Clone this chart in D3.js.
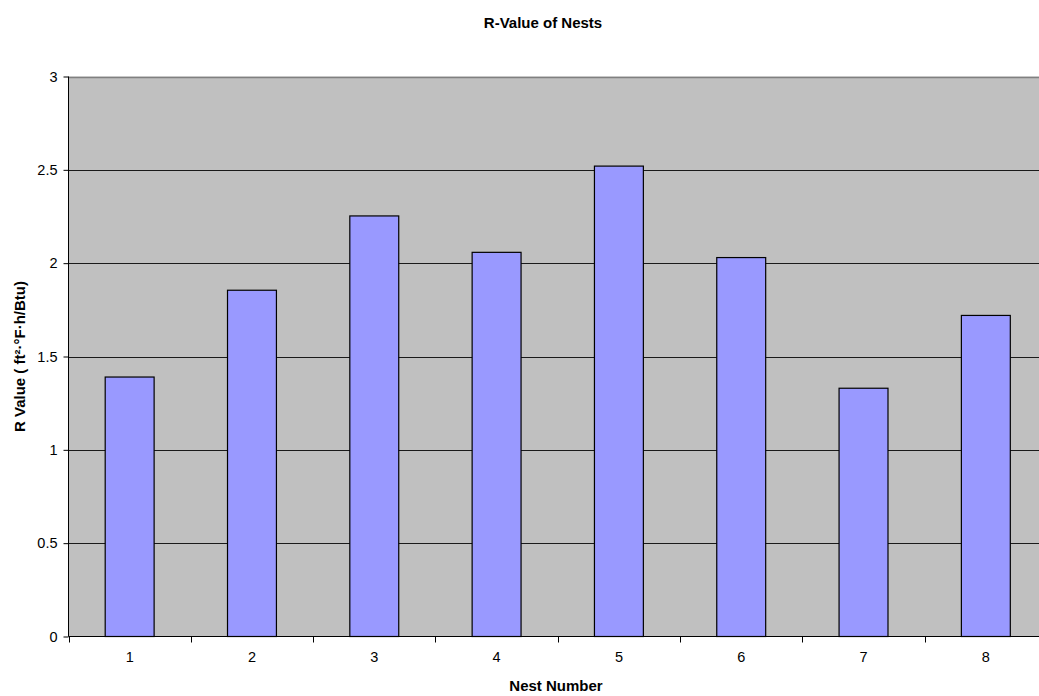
<!DOCTYPE html>
<html>
<head>
<meta charset="utf-8">
<script src="https://cdn.jsdelivr.net/npm/d3@7"></script>
<style>
  html, body { margin: 0; padding: 0; background: #fff; overflow: hidden; }
  text { font-family: "Liberation Sans", Arial, sans-serif; fill: #000; }
</style>
</head>
<body>
<svg id="chart" width="1039" height="696"></svg>
<script>
const categories = ["1", "2", "3", "4", "5", "6", "7", "8"];
const values = [1.39, 1.855, 2.253, 2.058, 2.52, 2.03, 1.33, 1.72];
const yTicks = [0, 0.5, 1, 1.5, 2, 2.5, 3];
const yTickLabels = ["0", "0.5", "1", "1.5", "2", "2.5", "3"];
const chartTitle = "R-Value of Nests";
const xTitle = "Nest Number";
const yTitle = "R Value ( ft²·°F·h/Btu)";

(function () {
const svg = d3.select("#chart");
const pLeft = 68.5, pTop = 76.5, pRight = 1047, pBottom = 636.5;

const x = d3.scaleBand().domain(categories).range([pLeft, pRight]).paddingInner(0.6).paddingOuter(0.3);
const xb = d3.scaleBand().domain(categories).range([pLeft, pRight]);
const y = d3.scaleLinear().domain([0, 3]).range([pBottom, pTop]);

// plot background
svg.append("rect").attr("x", pLeft).attr("y", pTop).attr("width", pRight - pLeft).attr("height", pBottom - pTop)
  .attr("fill", "#c0c0c0");

// gridlines
svg.append("g").selectAll("line").data(yTicks.filter(d => d > 0)).join("line")
  .attr("x1", pLeft).attr("x2", pRight)
  .attr("y1", d => Math.round(y(d)) + 0.5).attr("y2", d => Math.round(y(d)) + 0.5)
  .attr("stroke", d => d === 3 ? "#808080" : "#1a1a1a").attr("stroke-width", d => d === 3 ? 1.5 : 1);

// bars
svg.append("g").selectAll("rect").data(values).join("rect")
  .attr("x", (d, i) => x(categories[i]))
  .attr("y", d => y(d))
  .attr("width", x.bandwidth())
  .attr("height", d => pBottom - y(d))
  .attr("fill", "#9999ff")
  .attr("stroke", "#000").attr("stroke-width", 1.2);

// y axis
const yAxis = d3.axisLeft(y).tickValues(yTicks).tickFormat((d, i) => yTickLabels[i]).tickSize(5).tickPadding(6);
const gy = svg.append("g").attr("transform", `translate(${pLeft},0)`).call(yAxis);
gy.select(".domain").attr("stroke", "#000").attr("d", `M0,${pTop}V${pBottom}`);
gy.selectAll(".tick line").attr("stroke", "#000");
gy.selectAll(".tick text").style("font-size", "14.5px").style("font-family", "Liberation Sans, Arial, sans-serif").attr("fill", "#000");

// x axis
const xAxis = d3.axisBottom(xb).tickSize(0).tickPadding(15);
const gx = svg.append("g").attr("transform", `translate(0,${pBottom})`).call(xAxis);
gx.select(".domain").attr("stroke", "#000").attr("d", `M${pLeft},0H${pRight}`);
gx.selectAll(".tick text").style("font-size", "14.5px").style("font-family", "Liberation Sans, Arial, sans-serif").attr("fill", "#000");
// boundary ticks
gx.append("g").selectAll("line").data(categories.concat(["end"])).join("line")
  .attr("x1", (d, i) => Math.round(pLeft + i * xb.step()) + 0.5)
  .attr("x2", (d, i) => Math.round(pLeft + i * xb.step()) + 0.5)
  .attr("y1", 0).attr("y2", 6).attr("stroke", "#000");

// titles
svg.append("text").attr("x", 543).attr("y", 28).attr("text-anchor", "middle")
  .style("font-size", "15px").style("font-weight", "bold").text(chartTitle);
svg.append("text").attr("x", 556).attr("y", 691).attr("text-anchor", "middle")
  .style("font-size", "15px").style("font-weight", "bold").text(xTitle);
svg.append("text").attr("transform", `translate(25,${(pTop + pBottom) / 2}) rotate(-90)`).attr("text-anchor", "middle")
  .style("font-size", "15px").style("font-weight", "bold").text(yTitle);
})();
</script>
</body>
</html>
